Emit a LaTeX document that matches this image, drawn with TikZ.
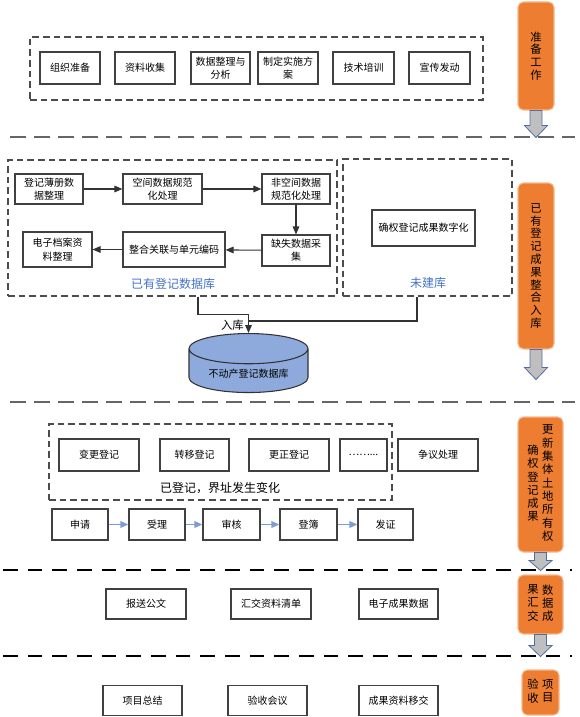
\documentclass[tikz,border=0pt]{standalone}
\usepackage{fontspec}
\setmainfont{Noto Sans CJK SC}
\usetikzlibrary{shapes.geometric,arrows.meta}
\definecolor{stageorange}{RGB}{237,125,49}
\definecolor{labelblue}{RGB}{68,114,196}
\definecolor{flowblue}{RGB}{125,156,214}
\definecolor{dbblue}{RGB}{142,169,219}
\definecolor{arrowblue}{RGB}{79,109,160}

\begin{document}
\begin{tikzpicture}[x=0.75pt,y=-0.75pt,
    box/.style={rectangle,draw=black!75,line width=0.9pt,fill=white,align=center,inner sep=1pt,
      minimum width=60pt,minimum height=22.5pt,font=\fontsize{7.5}{10}\selectfont},
    dashbox/.style={rectangle,draw=black!70,line width=0.8pt,dash pattern=on 5pt off 3pt},
    stage/.style={rectangle,rounded corners=4pt,fill=stageorange,draw=stageorange!55!white,line width=0.8pt,
      inner sep=0pt,align=center,font=\fontsize{8.5}{9.6}\selectfont},
    tag/.style={font=\fontsize{9}{11}\selectfont,text=labelblue},
    blockarrow/.style={fill=black!25,draw=arrowblue,line width=0.6pt},
    sepgray/.style={draw=black!60,line width=1.3pt,dash pattern=on 12pt off 6pt},
    sepblack/.style={draw=black,line width=0.8pt,dash pattern=on 11pt off 7.5pt},
    flow/.style={draw=black!80,line width=0.8pt,-{Triangle[length=6pt,width=5pt]}},
    blueflow/.style={draw=flowblue,line width=1.1pt,-{Triangle[length=6pt,width=5pt]}}]
  \useasboundingbox (0,0) rectangle (580,717);

  % preparation
  \path
  (256.5,68.5) node[dashbox,minimum width=339.75pt,minimum height=47.25pt] (prepbox) {}
  (70,68) node[box,minimum width=45pt,minimum height=24pt] (organize) {组织准备}
  (145,68) node[box,minimum width=45pt,minimum height=24pt] (collect) {资料收集}
  (220.5,68) node[box,minimum width=44.25pt,minimum height=24pt] (sortdata) {数据整理与\\分析}
  (288,68) node[box,minimum width=45pt,minimum height=24pt] (plan) {制定实施方\\案}
  (363.5,68) node[box,minimum width=45.75pt,minimum height=24pt] (training) {技术培训}
  (439.5,68) node[box,minimum width=45.75pt,minimum height=24pt] (publicity) {宣传发动}
  (536,56) node[stage,minimum width=27pt,minimum height=81pt] (stageprep) {准\\备\\工\\作};

  % existing records
  \path
  (172.5,228) node[dashbox,minimum width=246.75pt,minimum height=102pt] (exist) {}
  (173,284) node[tag] (existtag) {已有登记数据库}
  (427.5,227.5) node[dashbox,minimum width=126.75pt,minimum height=102.75pt] (nobase) {}
  (428,283) node[tag] (nobasetag) {未建库}
  (49,189) node[box,minimum width=51pt] (book) {登记薄册数\\据整理}
  (162.5,189) node[box,minimum width=59.25pt] (spatial) {空间数据规范\\化处理}
  (296,189) node[box,minimum width=51pt] (nonspatial) {非空间数据\\规范化处理}
  (296,250.5) node[box,minimum width=51pt,minimum height=23.25pt] (missing) {缺失数据采\\集}
  (174,249.5) node[box,minimum width=76.5pt,minimum height=26.25pt] (integrate) {整合关联与单元编码}
  (57.5,249.5) node[box,minimum width=51.75pt,minimum height=26.25pt] (archive) {电子档案资\\料整理}
  (423.5,228) node[box,minimum width=77.25pt,minimum height=27pt] (digitize) {确权登记成果数字化}
  (248.5,333) node[cylinder,shape border rotate=90,aspect=0.34,anchor=north,draw=black!80,line width=0.8pt,
    fill=dbblue,minimum width=89.25pt,minimum height=44.25pt,font=\fontsize{7.5}{9}\selectfont] (db) {不动产登记数据库}
  (536,266) node[stage,minimum width=27pt,minimum height=124.5pt] (stageimport) {已\\有\\登\\记\\成\\果\\整\\合\\入\\库};
  \coordinate (join) at (db.north |- 0,321);

  \draw[flow] (book) -- (spatial);
  \draw[flow] (spatial) -- (nonspatial);
  \draw[flow] (nonspatial) -- (missing);
  \draw[flow] (missing) -- (integrate);
  \draw[flow] (integrate) -- (archive);
  \draw[flow] (exist.south) ++(25.5,0) -- ++(0,18) -| (db.north);
  \draw[draw=black!80,line width=0.8pt] (nobase.south) ++(-10.5,0) |- (join);
  \node[font=\fontsize{8.5}{10}\selectfont,anchor=east] (intag) at ([yshift=-3pt]join) {入库};

  % update of collective land ownership
  \path
  (220.5,462) node[dashbox,minimum width=257.25pt,minimum height=57pt] (changed) {}
  (99,455) node[box,minimum height=24pt] (alter) {变更登记}
  (194.5,455) node[box,minimum width=51.75pt,minimum height=24pt] (transfer) {转移登记}
  (289,455) node[box,minimum height=24pt] (correct) {更正登记}
  (363.5,455) node[box,minimum width=35.25pt,minimum height=24pt] (others) {……...}
  (438,455) node[box,minimum height=24pt] (dispute) {争议处理}
  (220,488) node[font=\fontsize{9}{11}\selectfont] (changedtag) {已登记，界址发生变化}
  (80,524.5) node[box,minimum width=42pt,minimum height=23.25pt] (apply) {申请}
  (157,524.5) node[box,minimum width=42pt,minimum height=23.25pt] (accept) {受理}
  (231.5,524.5) node[box,minimum width=42.75pt,minimum height=23.25pt] (review) {审核}
  (308.5,524.5) node[box,minimum width=42.75pt,minimum height=23.25pt] (enroll) {登簿}
  (385.5,524.5) node[box,minimum width=41.25pt,minimum height=23.25pt] (certify) {发证}
  (540.5,484.5) node[stage,minimum width=33.75pt,minimum height=101.25pt] (stageupdate)
    {\begin{tabular}[c]{@{}c@{}}确\\权\\登\\记\\成\\果\end{tabular}\hspace{2.6pt}%
     \begin{tabular}[c]{@{}c@{}}更\\新\\集\\体\\土\\地\\所\\有\\权\end{tabular}};

  \draw[blueflow] (apply) -- (accept);
  \draw[blueflow] (accept) -- (review);
  \draw[blueflow] (review) -- (enroll);
  \draw[blueflow] (enroll) -- (certify);

  % submission and acceptance
  \path
  (146,604) node[box] (report) {报送公文}
  (271,604) node[box] (handlist) {汇交资料清单}
  (398.5,604) node[box,minimum width=59.25pt] (edata) {电子成果数据}
  (540.5,604.5) node[stage,minimum width=33.75pt,minimum height=44.25pt] (stagesubmit)
    {\begin{tabular}[c]{@{}c@{}}果\\汇\\交\end{tabular}\hspace{2.6pt}%
     \begin{tabular}[c]{@{}c@{}}数\\据\\成\end{tabular}}
  (142.5,700.5) node[box,minimum width=59.25pt] (summary) {项目总结}
  (267.5,700.5) node[box,minimum width=59.25pt] (meeting) {验收会议}
  (398.5,700.5) node[box,minimum width=59.25pt] (handover) {成果资料移交}
  (540.5,692.5) node[stage,minimum width=27.75pt,minimum height=33.75pt] (stageaccept)
    {\begin{tabular}[c]{@{}c@{}}验\\收\end{tabular}\hspace{2.6pt}%
     \begin{tabular}[c]{@{}c@{}}项\\目\end{tabular}};

  % stage arrows and separators
  \draw[blockarrow] (stageprep.south) ++(-6,0) -- ++(0,15) -- ++(-5.5,0) -- ++(11.5,12) -- ++(11.5,-12) -- ++(-5.5,0) -- ++(0,-15) -- cycle;
  \draw[blockarrow] (stageimport.south) ++(-6,0) -- ++(0,18) -- ++(-5.5,0) -- ++(11.5,12) -- ++(11.5,-12) -- ++(-5.5,0) -- ++(0,-18) -- cycle;
  \draw[blockarrow] (stageupdate.south) ++(-6,0) -- ++(0,8) -- ++(-5.5,0) -- ++(11.5,10) -- ++(11.5,-10) -- ++(-5.5,0) -- ++(0,-8) -- cycle;
  \draw[blockarrow] (stagesubmit.south) ++(-6,0) -- ++(0,11) -- ++(-5.5,0) -- ++(11.5,11) -- ++(11.5,-11) -- ++(-5.5,0) -- ++(0,-11) -- cycle;
  \draw[sepgray] (10,137) -- (575,137);
  \draw[sepgray] (10,402) -- (575,402);
  \draw[sepblack] (3,570) -- (572,570);
  \draw[sepblack] (3,656) -- (572,656);
\end{tikzpicture}
\end{document}
